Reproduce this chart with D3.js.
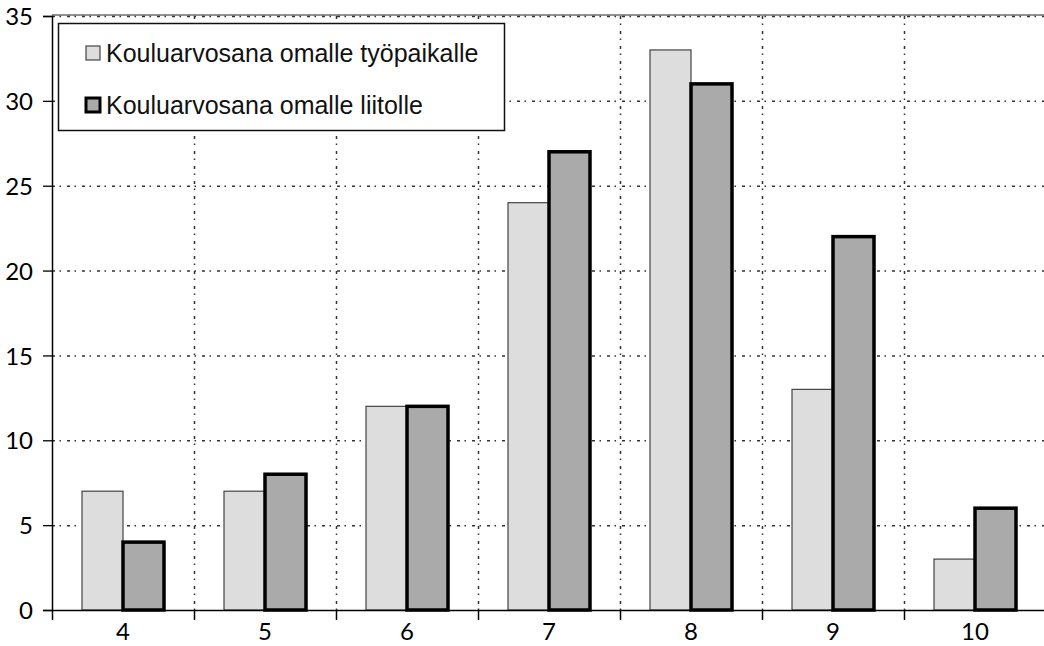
<!DOCTYPE html>
<html>
<head>
<meta charset="utf-8">
<script src="https://cdn.jsdelivr.net/npm/d3@7"></script>
<style>
  body { margin: 0; background: #fff; }
  svg { display: block; }
</style>
</head>
<body>
<svg id="chart" width="1044" height="646"></svg>
<script>
// categories and series
const grades = ["4", "5", "6", "7", "8", "9", "10"];
const workplace = [7, 7, 12, 24, 33, 13, 3];
const union = [4, 8, 12, 27, 31, 22, 6];
const seriesNames = ["Kouluarvosana omalle työpaikalle", "Kouluarvosana omalle liitolle"];
const yTicks = [0, 5, 10, 15, 20, 25, 30, 35];

const svg = d3.select("#chart");
const plotLeft = 52, plotTop = 16, plotBottom = 610, plotRight = 1046;

const x = d3.scaleBand().domain(grades).range([plotLeft, plotRight]);
const y = d3.scaleLinear().domain([0, 35]).range([plotBottom, plotTop]);

const tickFont = "Lato, 'Open Sans', sans-serif";
const gridDash = "3,4.5,1.5,6";

// grid
const grid = svg.append("g");
yTicks.filter((d) => d > 0).forEach((d) => {
  grid.append("line")
    .attr("x1", plotLeft).attr("x2", plotRight)
    .attr("y1", y(d) + 0.5).attr("y2", y(d) + 0.5)
    .attr("stroke", "#333").attr("stroke-width", 1.5)
    .attr("stroke-dasharray", gridDash);
});
grades.slice(1).forEach((g) => {
  grid.append("line")
    .attr("x1", x(g) + 0.5).attr("x2", x(g) + 0.5)
    .attr("y1", plotTop).attr("y2", plotBottom)
    .attr("stroke", "#333").attr("stroke-width", 1.5)
    .attr("stroke-dasharray", gridDash);
});
// top border
svg.append("line")
  .attr("x1", plotLeft).attr("x2", plotRight)
  .attr("y1", plotTop - 1).attr("y2", plotTop - 1)
  .attr("stroke", "#222").attr("stroke-width", 1);

// bars
const inner = d3.scaleBand().domain([0, 1]).range([30, x.bandwidth() - 30]);
const plot = svg.append("g");
plot.selectAll(".b0").data(workplace).enter().append("rect")
  .attr("x", (d, i) => x(grades[i]) + inner(0))
  .attr("y", (d) => y(d))
  .attr("width", inner.bandwidth())
  .attr("height", (d) => plotBottom - y(d))
  .attr("fill", "#dddddd")
  .attr("stroke", "#444").attr("stroke-width", 1.2);
plot.selectAll(".b1").data(union).enter().append("rect")
  .attr("x", (d, i) => x(grades[i]) + inner(1))
  .attr("y", (d) => y(d))
  .attr("width", inner.bandwidth())
  .attr("height", (d) => plotBottom - y(d))
  .attr("fill", "#aaaaaa")
  .attr("stroke", "#000").attr("stroke-width", 3.5);

// axes
const yAxis = svg.append("g")
  .attr("transform", `translate(${plotLeft},0)`)
  .call(d3.axisLeft(y).tickValues(yTicks).tickSize(9).tickPadding(10));
yAxis.select(".domain").attr("stroke", "#000").attr("stroke-width", 1.5);
yAxis.selectAll("line").attr("stroke", "#000").attr("stroke-width", 1.3);
yAxis.selectAll("text")
  .attr("font-family", tickFont).attr("font-size", 24).attr("fill", "#000")
  .attr("dy", "0.36em");

const xAxis = svg.append("g")
  .attr("transform", `translate(0,${plotBottom})`)
  .call(d3.axisBottom(x).tickSize(0).tickPadding(13));
xAxis.select(".domain").attr("stroke", "#000").attr("stroke-width", 1.5);
xAxis.selectAll("text")
  .attr("font-family", tickFont).attr("font-size", 24).attr("fill", "#000");
// category boundary ticks
const xt = x.domain().map((g) => x(g));
xAxis.selectAll(".bt").data(xt).enter().append("line")
  .attr("x1", (d) => d + 0.5).attr("x2", (d) => d + 0.5)
  .attr("y1", 0).attr("y2", 10)
  .attr("stroke", "#000").attr("stroke-width", 1.5);

// legend
const legend = svg.append("g");
legend.append("rect")
  .attr("x", 58.5).attr("y", 23.5).attr("width", 446).attr("height", 107)
  .attr("fill", "#fff").attr("stroke", "#111").attr("stroke-width", 1.5);
const lf = [
  { fill: "#dddddd", stroke: "#444", sw: 1.2 },
  { fill: "#aaaaaa", stroke: "#000", sw: 3 },
];
seriesNames.forEach((name, i) => {
  const base = 62 + i * 52;
  legend.append("rect")
    .attr("x", 86).attr("y", base - 16).attr("width", 14).attr("height", 14)
    .attr("fill", lf[i].fill).attr("stroke", lf[i].stroke).attr("stroke-width", lf[i].sw);
  legend.append("text")
    .attr("x", 106).attr("y", base)
    .attr("font-family", "'Liberation Sans', Arial, sans-serif")
    .attr("font-size", 25).attr("fill", "#111")
    .text(name);
});
</script>
</body>
</html>
